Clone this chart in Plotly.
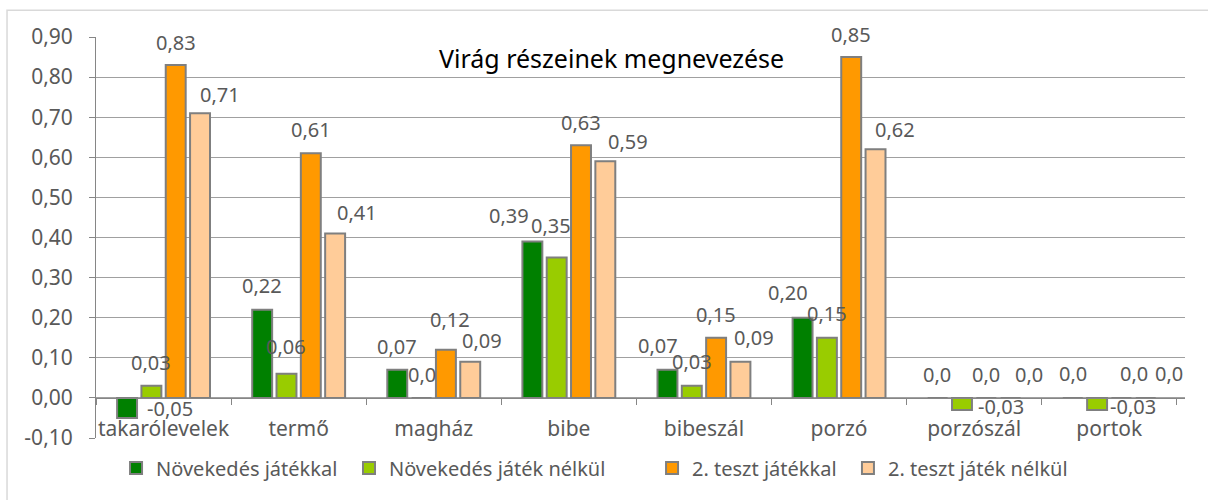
import plotly.graph_objects as go

# Categories (flower parts) and the four measured series
categories = ["takarólevelek", "termő", "magház", "bibe", "bibeszál", "porzó", "porzószál", "portok"]
series_names = ["Növekedés játékkal", "Növekedés játék nélkül", "2. teszt játékkal", "2. teszt játék nélkül"]
novekedes_jatekkal = [-0.05, 0.22, 0.07, 0.39, 0.07, 0.20, 0.0, 0.0]
novekedes_jatek_nelkul = [0.03, 0.06, 0.0, 0.35, 0.03, 0.15, -0.03, -0.03]
teszt2_jatekkal = [0.83, 0.61, 0.12, 0.63, 0.15, 0.85, 0.0, 0.0]
teszt2_jatek_nelkul = [0.71, 0.41, 0.09, 0.59, 0.09, 0.62, 0.0, 0.0]
y_ticks = [-0.1, 0.0, 0.1, 0.2, 0.3, 0.4, 0.5, 0.6, 0.7, 0.8, 0.9]

series_values = [novekedes_jatekkal, novekedes_jatek_nelkul, teszt2_jatekkal, teszt2_jatek_nelkul]
colors = ["#008000", "#99cc00", "#ff9900", "#ffcc99"]

# Hand-placed nudges (dx, dy in px) for the value labels, per series / category
label_nudge = [
    [(43, -14), (0, 1), (0, 0), (-23, 3), (-9, 1), (-14, 2), (0, 0), (0, 1)],
    [(0, 0), (0, 4), (0, 0), (-6, 9), (0, 1), (0, 1), (39, -20), (36, -20)],
    [(0, 0), (0, 1), (4, 7), (0, 0), (0, 0), (0, 0), (0, 0), (12, 1)],
    [(20, -4), (22, -2), (11, -2), (22, -3), (13, 1), (19, -3), (18, 0), (23, 1)],
]

# Left edge (paper fraction) of each legend entry, spaced like the original layout
legend_x = [0.0184, 0.2323, 0.5106, 0.6905]

FONT = "Noto Sans"
GRAY_TEXT = "#595959"
SLOT_PX = 24.5  # horizontal distance between neighbouring bars in a group


def fmt(v):
    if v == 0:
        return "0,0"
    return f"{v:.2f}".replace(".", ",")


fig = go.Figure()
legend_keys = ["legend", "legend2", "legend3", "legend4"]
for name, vals, col, lg in zip(series_names, series_values, colors, legend_keys):
    fig.add_trace(go.Bar(
        name=name, x=categories, y=vals, legend=lg,
        marker=dict(color=col, line=dict(color="#7f7f7f", width=2)),
        hoverinfo="x+y",
    ))

annotations = []
for i, vals in enumerate(series_values):
    for k, v in enumerate(vals):
        dx, dy = label_nudge[i][k]
        annotations.append(dict(
            x=categories[k], y=v, xref="x", yref="y",
            text=fmt(v), showarrow=False,
            xanchor="center", yanchor="middle",
            xshift=(i - 1.5) * SLOT_PX + dx, yshift=23 + dy,
            font=dict(family=FONT, size=20, color=GRAY_TEXT),
        ))

annotations.append(dict(
    x=0.473, y=0.948, xref="paper", yref="paper",
    text="Virág részeinek megnevezése", showarrow=False,
    xanchor="center", yanchor="middle",
    font=dict(family=FONT, size=25, color="#000000"),
))

legend_style = dict(
    orientation="h", y=-0.075, xanchor="left", yanchor="middle",
    font=dict(family=FONT, size=20, color=GRAY_TEXT),
    bgcolor="rgba(0,0,0,0)",
)

fig.update_layout(
    width=1208, height=500,
    margin=dict(l=96, r=23, t=37, b=62, autoexpand=False),
    paper_bgcolor="white", plot_bgcolor="white",
    barmode="group", bargap=0.28, bargroupgap=0.18,
    font=dict(family=FONT, size=20, color=GRAY_TEXT),
    showlegend=True,
    legend=dict(x=legend_x[0], **legend_style),
    legend2=dict(x=legend_x[1], **legend_style),
    legend3=dict(x=legend_x[2], **legend_style),
    legend4=dict(x=legend_x[3], **legend_style),
    annotations=annotations,
    shapes=[dict(
        type="rect", xref="paper", yref="paper",
        x0=-0.0817, x1=1.2, y0=-0.2, y1=1.067,
        line=dict(color="#d9d9d9", width=1.5), fillcolor="rgba(0,0,0,0)", layer="below",
    )],
)

fig.update_yaxes(
    range=[-0.1, 0.9], tickvals=y_ticks,
    ticktext=[f"{t:.2f}".replace(".", ",") for t in y_ticks],
    showline=True, linecolor="#868686", linewidth=1,
    ticks="outside", ticklen=6, tickcolor="#868686",
    showgrid=True, gridcolor="#a0a0a0", gridwidth=1,
    zeroline=False, ticklabelstandoff=12, automargin=False,
    tickfont=dict(family=FONT, size=21, color=GRAY_TEXT),
)

# Category axis crosses the value axis at zero
fig.update_xaxes(
    type="category", anchor="free", position=0.1,
    showline=True, linecolor="#868686", linewidth=1,
    ticks="outside", tickson="boundaries", ticklen=6, tickcolor="#868686",
    showgrid=False, ticklabelstandoff=12, tickangle=0, automargin=False,
    tickfont=dict(family=FONT, size=21, color=GRAY_TEXT),
)

fig.write_html("out.html")
